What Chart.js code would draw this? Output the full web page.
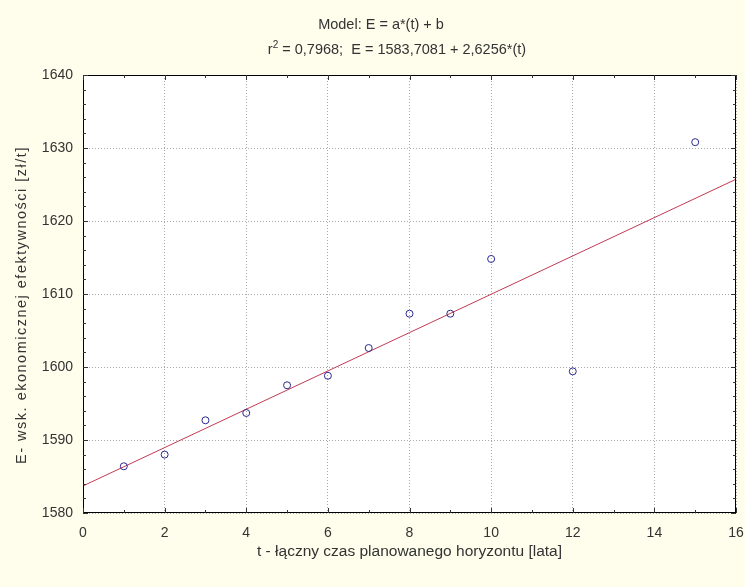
<!DOCTYPE html>
<html>
<head>
<meta charset="utf-8">
<script src="https://cdn.jsdelivr.net/npm/chart.js@4"></script>
<style>
  html, body { margin: 0; padding: 0; background: #fffdec; overflow: hidden; }
  #wrap { width: 745px; height: 587px; }
</style>
</head>
<body>
<div id="wrap"><canvas id="chart" width="745" height="587"></canvas></div>
<script>
const tValues = [1, 2, 3, 4, 5, 6, 7, 8, 9, 10, 12, 15];
const eValues = [1586.4, 1588.0, 1592.7, 1593.7, 1597.5, 1598.8, 1602.6, 1607.3, 1607.3, 1614.8, 1599.4, 1630.8];

// regression line end points: E = 1583,7081 + 2,6256*(t)
const fitT = [0, 16];
const fitE = [1583.7081, 1625.7177];

const titleLines = ['Model: E = a*(t) + b', ' = 0,7968;  E = 1583,7081 + 2,6256*(t)'];
const xTitle = 't - łączny czas planowanego horyzontu [lata]';
const yTitle = 'E- wsk. ekonomicznej efektywności [zł/t]';

const FONT = '"Liberation Sans", Arial, sans-serif';
const TXT = '#333333';

// white plot area, frame, inner ticks and all title text
const frame = {
  id: 'frame',
  beforeDraw(chart) {
    const { ctx, chartArea: a } = chart;
    ctx.save();
    ctx.fillStyle = '#ffffff';
    ctx.fillRect(a.left, a.top, a.right - a.left, a.bottom - a.top);
    ctx.restore();
  },
  afterDraw(chart) {
    const { ctx, chartArea: a, scales } = chart;
    ctx.save();
    ctx.strokeStyle = '#000000';
    ctx.lineWidth = 1;
    ctx.strokeRect(Math.round(a.left) + 0.5, Math.round(a.top) + 0.5,
      Math.round(a.right - a.left) - 1, Math.round(a.bottom - a.top) - 1);

    ctx.strokeStyle = '#333333';
    ctx.beginPath();
    for (let v = 0; v <= 16; v += 1) {
      const x = Math.round(scales.x.getPixelForValue(v)) + 0.5;
      const len = v % 2 === 0 ? 5 : 3;
      ctx.moveTo(x, a.bottom); ctx.lineTo(x, a.bottom - len);
      ctx.moveTo(x, a.top); ctx.lineTo(x, a.top + len);
    }
    for (let v = 1580; v <= 1640; v += 2) {
      const y = Math.round(scales.y.getPixelForValue(v)) + 0.5;
      const len = v % 10 === 0 ? 5 : 3;
      ctx.moveTo(a.left, y); ctx.lineTo(a.left + len, y);
      ctx.moveTo(a.right, y); ctx.lineTo(a.right - len, y);
    }
    ctx.stroke();

    ctx.fillStyle = TXT;
    ctx.textBaseline = 'middle';

    // main title, two lines, second one with r squared
    ctx.font = '14.5px ' + FONT;
    ctx.textAlign = 'center';
    ctx.fillText(titleLines[0], 381, 25);
    const w2 = ctx.measureText(titleLines[1]).width;
    const wr = ctx.measureText('r').width;
    ctx.font = '10px ' + FONT;
    const ws = ctx.measureText('2').width;
    const x0 = 397 - (wr + ws + w2) / 2;
    ctx.textAlign = 'left';
    ctx.font = '14.5px ' + FONT;
    ctx.fillText('r', x0, 50);
    ctx.font = '10px ' + FONT;
    ctx.fillText('2', x0 + wr, 45);
    ctx.font = '14.5px ' + FONT;
    ctx.fillText(titleLines[1], x0 + wr + ws, 50);

    // axis titles
    ctx.textAlign = 'center';
    ctx.font = '15.5px ' + FONT;
    ctx.fillText(xTitle, (a.left + a.right) / 2, 552);

    ctx.translate(22, 305);
    ctx.rotate(-Math.PI / 2);
    ctx.font = '14.5px ' + FONT;
    ctx.letterSpacing = '1.5px';
    ctx.fillText(yTitle, 0, 0);
    ctx.letterSpacing = '0px';
    ctx.restore();
  }
};

new Chart(document.getElementById('chart'), {
  type: 'scatter',
  data: {
    datasets: [
      {
        label: 'E',
        data: tValues.map((t, i) => ({ x: t, y: eValues[i] })),
        pointStyle: 'circle',
        pointRadius: 3.5,
        pointBorderWidth: 1,
        borderColor: '#2a2a90',
        backgroundColor: 'rgba(255,255,255,0)',
        order: 1
      },
      {
        type: 'line',
        label: 'fit',
        data: fitT.map((t, i) => ({ x: t, y: fitE[i] })),
        borderColor: '#c03a55',
        borderWidth: 1,
        pointRadius: 0,
        fill: false,
        order: 2
      }
    ]
  },
  plugins: [frame],
  options: {
    responsive: false,
    animation: false,
    layout: { padding: { top: 75, right: 9, left: 0, bottom: 0 } },
    plugins: {
      legend: { display: false },
      tooltip: { enabled: false }
    },
    scales: {
      x: {
        type: 'linear',
        min: 0,
        max: 16,
        ticks: { stepSize: 2, color: TXT, font: { family: FONT, size: 14 }, padding: 0, callback: v => String(v) },
        grid: { color: '#a8a8a8', drawTicks: true, tickLength: 12, tickColor: 'rgba(0,0,0,0)' },
        border: { display: false, dash: [1, 2] },
        afterFit(s) { s.height = 74; }
      },
      y: {
        type: 'linear',
        min: 1580,
        max: 1640,
        ticks: { stepSize: 10, color: TXT, font: { family: FONT, size: 14 }, padding: 10, callback: v => String(v) },
        grid: { color: '#a8a8a8', drawTicks: false },
        border: { display: false, dash: [1, 2] },
        afterFit(s) { s.width = 83; }
      }
    }
  }
});
</script>
</body>
</html>
